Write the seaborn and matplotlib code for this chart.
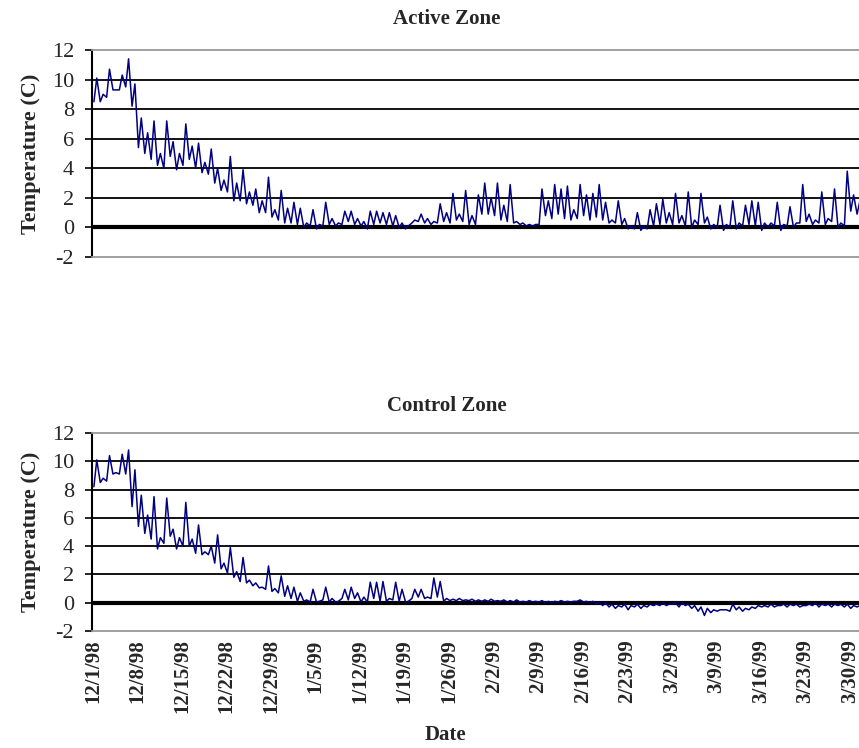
import matplotlib
matplotlib.use("Agg")
import matplotlib.pyplot as plt
import seaborn as sns
import pandas as pd

sns.set_style("white")
plt.rcParams['font.family'] = ['Liberation Serif', 'DejaVu Serif']

# daily lows / highs, day 0 = 12/1/98
active_low = [8.5, 8.5, 8.8, 9.3, 9.3, 9.5, 8.2, 5.4, 5.0, 4.6,
              4.2, 4.0, 4.8, 3.9, 4.2, 4.6, 4.0, 3.7, 3.6, 3.0,
              2.5, 2.4, 1.8, 1.8, 1.6, 1.5, 1.0, 1.0, 0.7, 0.5,
              0.3, 0.3, 0.2, 0.0, 0.1, -0.1, 0.1, 0.2, 0.1, 0.2,
              0.4, 0.2, 0.1, -0.1, 0.2, 0.3, 0.2, 0.1, 0.0, -0.1,
              0.3, 0.4, 0.3, 0.2, 0.3, 0.4, 0.3, 0.5, 0.4, 0.2,
              0.2, 0.9, 0.9, 0.8, 0.5, 0.4, 0.3, 0.2, 0.1, 0.1,
              0.2, 0.8, 0.6, 0.9, 0.6, 0.5, 0.6, 0.8, 0.5, 0.7,
              0.5, 0.3, 0.3, 0.2, -0.1, -0.1, -0.2, -0.1, 0.1, 0.2,
              0.3, 0.2, 0.3, 0.1, 0.0, 0.2, 0.3, -0.1, 0.0, -0.2,
              0.0, -0.1, 0.1, 0.2, 0.1, -0.2, 0.0, 0.1, -0.2, 0.1,
              0.0, 0.3, 0.4, 0.2, 0.3, 0.2, 0.4, 0.0, 0.1, 1.1,
              0.9]
active_high = [10.1, 9.0, 10.7, 9.3, 10.3, 11.4, 9.7, 7.4, 6.4, 7.2,
               5.0, 7.2, 5.8, 5.0, 7.0, 5.5, 5.7, 4.4, 5.3, 4.0,
               3.2, 4.8, 3.0, 3.9, 2.4, 2.6, 1.8, 3.4, 1.2, 2.5,
               1.3, 1.7, 1.3, 0.3, 1.2, 0.2, 1.7, 0.6, 0.3, 1.1,
               1.1, 0.6, 0.4, 1.1, 1.1, 1.0, 1.0, 0.8, 0.3, 0.1,
               0.5, 0.9, 0.6, 0.4, 1.6, 1.0, 2.3, 0.9, 2.5, 0.8,
               2.2, 3.0, 2.0, 3.0, 1.5, 2.9, 0.4, 0.3, 0.2, 0.2,
               2.6, 1.8, 2.9, 2.6, 2.8, 1.2, 2.9, 2.2, 2.3, 2.9,
               1.7, 0.5, 1.8, 0.6, 0.1, 1.0, 0.1, 1.2, 1.6, 1.9,
               1.0, 2.3, 0.8, 2.4, 0.5, 2.3, 0.7, 0.2, 1.5, 0.2,
               1.8, 0.3, 1.5, 1.8, 1.7, 0.3, 0.3, 1.7, 0.2, 1.4,
               0.3, 2.9, 0.9, 0.5, 2.4, 0.6, 2.6, 0.3, 3.8, 2.2,
               1.8]

control_low = [8.2, 8.5, 8.6, 9.1, 9.1, 9.1, 6.8, 5.4, 4.9, 4.5,
               3.8, 4.2, 4.7, 3.8, 4.0, 4.0, 3.5, 3.4, 3.4, 2.8,
               2.4, 2.1, 1.8, 1.5, 1.4, 1.2, 1.05, 0.95, 0.8, 0.7,
               0.45, 0.3, 0.1, 0.1, 0.05, 0.05, 0.2, 0.05, 0.05, 0.3,
               0.2, 0.3, 0.05, 0.05, 0.3, 0.1, 0.1, 0.2, 0.1, 0.05,
               0.3, 0.4, 0.3, 0.3, 0.4, 0.1, 0.15, 0.15, 0.15, 0.15,
               0.1, 0.1, 0.1, 0.1, 0.1, 0.05, 0.05, 0.05, 0.05, 0.05,
               0.05, 0.0, 0.0, 0.05, 0.05, 0.05, 0.1, 0.05, 0.0, -0.1,
               -0.2, -0.3, -0.4, -0.3, -0.5, -0.3, -0.4, -0.3, -0.2, -0.2,
               -0.2, -0.1, -0.3, -0.2, -0.4, -0.6, -0.9, -0.7, -0.6, -0.5,
               -0.6, -0.5, -0.6, -0.5, -0.4, -0.3, -0.3, -0.3, -0.2, -0.3,
               -0.2, -0.3, -0.2, -0.2, -0.3, -0.2, -0.3, -0.2, -0.3, -0.4,
               -0.3]
control_high = [10.1, 8.8, 10.4, 9.2, 10.5, 10.8, 9.4, 7.6, 6.2, 7.5,
                4.6, 7.4, 5.2, 4.6, 7.1, 4.5, 5.5, 3.6, 4.0, 4.8,
                2.8, 3.9, 2.2, 3.2, 1.6, 1.4, 1.1, 2.6, 1.0, 1.9,
                1.2, 1.1, 0.7, 0.2, 0.95, 0.1, 1.1, 0.3, 0.1, 0.95,
                1.1, 0.7, 0.4, 1.45, 1.45, 1.5, 0.3, 1.45, 0.95, 0.1,
                0.95, 0.95, 0.4, 1.75, 1.5, 0.3, 0.25, 0.3, 0.2, 0.25,
                0.2, 0.2, 0.25, 0.15, 0.2, 0.15, 0.2, 0.1, 0.15, 0.1,
                0.15, 0.1, 0.1, 0.15, 0.1, 0.1, 0.2, 0.1, 0.1, 0.05,
                0.0, -0.1, -0.2, -0.1, -0.2, -0.1, -0.2, -0.1, -0.1, 0.0,
                -0.1, 0.0, 0.0, -0.1, -0.2, -0.3, -0.4, -0.5, -0.5, -0.5,
                -0.1, -0.3, -0.4, -0.3, -0.2, -0.2, -0.1, -0.2, -0.1, -0.1,
                -0.1, -0.2, -0.1, 0.0, -0.1, -0.1, -0.1, -0.1, -0.1, -0.2,
                -0.2]

tick_days = [0, 7, 14, 21, 28, 35, 42, 49, 56, 63, 70, 77, 84, 91, 98, 105, 112, 119]
tick_labels = ['12/1/98', '12/8/98', '12/15/98', '12/22/98', '12/29/98', '1/5/99',
               '1/12/99', '1/19/99', '1/26/99', '2/2/99', '2/9/99', '2/16/99',
               '2/23/99', '3/2/99', '3/9/99', '3/16/99', '3/23/99', '3/30/99']
y_ticks = [-2, 0, 2, 4, 6, 8, 10, 12]


def to_frame(lows, highs):
    rows = []
    for d, (lo, hi) in enumerate(zip(lows, highs)):
        rows.append((d + 0.15, lo))
        rows.append((d + 0.6, hi))
    return pd.DataFrame(rows, columns=['day', 'temp'])


fig = plt.figure(figsize=(8.59, 7.48), dpi=100)
ax1 = fig.add_axes([0.1071, 0.6564, 0.8929, 0.2768])
ax2 = fig.add_axes([0.1071, 0.1564, 0.8929, 0.2647])

panels = [(ax1, active_low, active_high, 'Active Zone', 0.974),
          (ax2, control_low, control_high, 'Control Zone', 0.4566)]

for ax, lows, highs, title, ty in panels:
    df = to_frame(lows, highs)
    for v in [2, 4, 6, 8, 10]:
        ax.axhline(v, color='black', lw=1.3, zorder=1)
    ax.axhline(0, color='black', lw=3.0, zorder=1)
    sns.lineplot(data=df, x='day', y='temp', ax=ax, color='#000080', lw=1.1, zorder=3)
    ax.set_xlim(-0.15, 120.45)
    ax.set_ylim(-2, 12)
    ax.set_yticks(y_ticks)
    ax.set_yticklabels([str(v) for v in y_ticks], fontsize=16)
    ax.tick_params(axis='y', direction='out', length=5, width=1.2, color='black', pad=8, left=True)
    ax.set_ylabel('Temperature (C)', fontsize=16, fontweight='bold', labelpad=8)
    for s in ['top', 'bottom']:
        ax.spines[s].set_color('#999999')
        ax.spines[s].set_linewidth(1.3)
    ax.spines['right'].set_visible(False)
    ax.spines['left'].set_color('black')
    ax.spines['left'].set_linewidth(1.5)
    fig.text(0.52, ty, title, ha='center', va='center', fontsize=15, fontweight='bold')

ax1.set_xticks([])
ax1.set_xlabel('')
ax2.set_xticks(tick_days)
ax2.set_xticklabels(tick_labels, rotation=90, fontsize=15, fontweight='bold')
ax2.tick_params(axis='x', length=0, pad=6)
ax2.set_xlabel('')
fig.text(0.518, 0.018, 'Date', ha='center', va='center', fontsize=15, fontweight='bold')

fig.savefig('out.png', dpi=100)
